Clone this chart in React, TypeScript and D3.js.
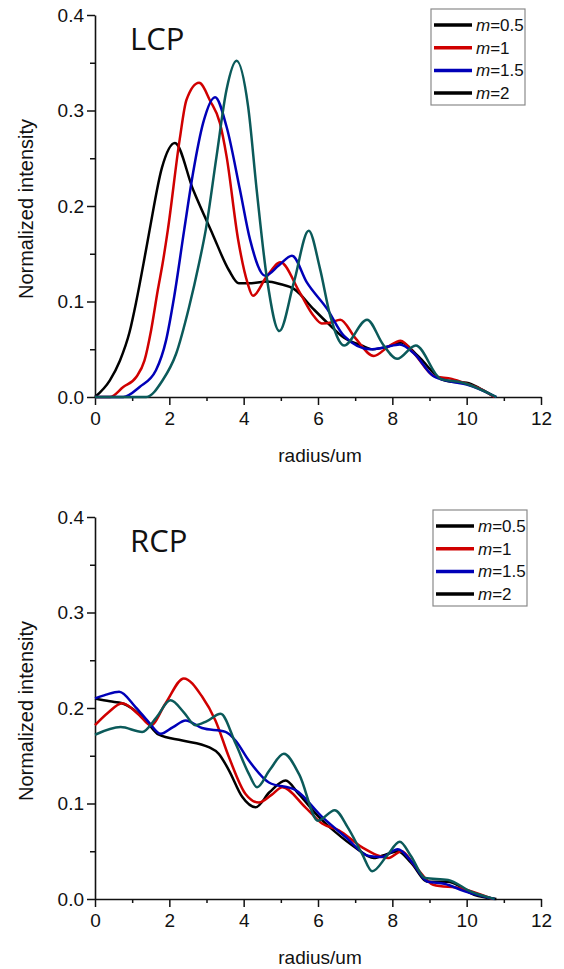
import React, { useRef, useEffect } from "react";
import * as d3 from "d3";

// radius (um) / normalized intensity pairs
const lcpM05: [number, number][] = [
  [0, 0], [0.4, 0.0175], [0.67, 0.038], [0.93, 0.068], [1.11, 0.1], [1.33, 0.145], [1.47, 0.175],
  [1.8, 0.24], [2.15, 0.266], [2.64, 0.217], [3.17, 0.17], [3.6, 0.133], [3.87, 0.119], [4.13, 0.119],
  [4.63, 0.121], [5.0, 0.118], [5.36, 0.113], [5.88, 0.092], [6.27, 0.077], [6.7, 0.062], [7.17, 0.054],
  [7.47, 0.05], [7.9, 0.053], [8.24, 0.057], [8.69, 0.043], [9.3, 0.019], [9.6, 0.016], [10.0, 0.015],
  [10.4, 0.008], [10.75, 0],
];
const lcpM1: [number, number][] = [
  [0, 0], [0.4, 0], [0.76, 0.0105], [1.11, 0.021], [1.33, 0.038], [1.51, 0.07], [1.69, 0.112],
  [1.82, 0.14], [1.96, 0.175], [2.28, 0.27], [2.46, 0.311], [2.8, 0.329], [3.1, 0.31], [3.36, 0.287],
  [3.54, 0.252], [3.85, 0.165], [4.1, 0.12], [4.25, 0.106], [4.6, 0.125], [4.99, 0.141], [5.5, 0.11],
  [5.88, 0.085], [6.1, 0.077], [6.35, 0.078], [6.6, 0.081], [7.0, 0.062], [7.5, 0.043], [7.9, 0.053],
  [8.22, 0.059], [8.6, 0.045], [9.12, 0.022], [9.6, 0.019], [10.0, 0.014], [10.28, 0.01], [10.75, 0],
];
const lcpM15: [number, number][] = [
  [0, 0], [0.76, 0], [1.2, 0.0105], [1.64, 0.028], [1.91, 0.059], [2.13, 0.105], [2.4, 0.175],
  [2.64, 0.235], [2.91, 0.287], [3.23, 0.314], [3.54, 0.283], [3.9, 0.217], [4.17, 0.165], [4.58, 0.127],
  [4.95, 0.138], [5.3, 0.148], [5.7, 0.12], [6.25, 0.092], [6.7, 0.064], [7.41, 0.05], [7.8, 0.052],
  [8.2, 0.055], [8.6, 0.045], [9.1, 0.022], [9.6, 0.016], [10.0, 0.013], [10.8, 0],
];
const lcpM2: [number, number][] = [
  [0, 0], [1.38, 0], [1.82, 0.0175], [2.18, 0.045], [2.53, 0.094], [2.8, 0.14], [2.98, 0.175],
  [3.27, 0.252], [3.54, 0.322], [3.81, 0.352], [4.12, 0.304], [4.35, 0.217], [4.63, 0.123], [4.96, 0.069],
  [5.35, 0.12], [5.75, 0.174], [6.05, 0.135], [6.33, 0.085], [6.7, 0.054], [7.32, 0.081], [7.75, 0.055],
  [8.13, 0.04], [8.63, 0.054], [9.3, 0.019], [9.9, 0.015], [10.8, 0],
];

const rcpM05: [number, number][] = [
  [0, 0.21], [0.4, 0.207], [0.73, 0.205], [0.98, 0.2], [1.36, 0.187], [1.72, 0.172], [2.35, 0.166],
  [3.06, 0.159], [3.33, 0.152], [3.6, 0.135], [3.96, 0.107], [4.32, 0.096], [4.7, 0.112], [5.13, 0.124],
  [5.48, 0.11], [6.02, 0.086], [6.47, 0.07], [7.0, 0.054], [7.5, 0.043], [7.85, 0.047], [8.15, 0.05],
  [8.5, 0.038], [8.96, 0.018], [9.5, 0.018], [10.2, 0.0045], [10.8, 0],
];
const rcpM1: [number, number][] = [
  [0, 0.182], [0.35, 0.195], [0.73, 0.205], [1.18, 0.193], [1.5, 0.182], [1.9, 0.205], [2.39, 0.231],
  [2.88, 0.212], [3.24, 0.187], [3.6, 0.149], [4.05, 0.11], [4.41, 0.101], [4.75, 0.109], [5.04, 0.117],
  [5.66, 0.096], [6.11, 0.079], [6.56, 0.072], [7.19, 0.054], [7.9, 0.043], [8.25, 0.05], [8.6, 0.035],
  [9.1, 0.015], [9.85, 0.011], [10.7, 0],
];
const rcpM15: [number, number][] = [
  [0, 0.21], [0.3, 0.214], [0.65, 0.217], [1.09, 0.201], [1.45, 0.185], [1.77, 0.173], [2.1, 0.18],
  [2.44, 0.187], [2.88, 0.179], [3.51, 0.175], [3.78, 0.166], [4.14, 0.145], [4.68, 0.122], [5.4, 0.114],
  [6.11, 0.086], [6.74, 0.065], [7.37, 0.045], [7.7, 0.044], [8.15, 0.052], [8.5, 0.04], [8.96, 0.018],
  [9.4, 0.016], [9.95, 0.008], [10.75, 0],
];
const rcpM2: [number, number][] = [
  [0, 0.172], [0.69, 0.18], [1.27, 0.175], [1.65, 0.19], [2.03, 0.208], [2.4, 0.195], [2.7, 0.182],
  [3.0, 0.186], [3.38, 0.194], [3.78, 0.163], [4.14, 0.131], [4.36, 0.117], [4.7, 0.135], [5.08, 0.152],
  [5.5, 0.13], [6.0, 0.082], [6.45, 0.093], [6.8, 0.075], [7.19, 0.047], [7.46, 0.029], [7.85, 0.045],
  [8.2, 0.06], [8.5, 0.045], [8.88, 0.022], [9.5, 0.02], [10.1, 0.008], [10.75, 0],
];

const legendLabels = ["m=0.5", "m=1", "m=1.5", "m=2"];
const lineColors = ["#000000", "#d00000", "#0000b8", "#0b5a5a"];
const legendColors = ["#000000", "#d00000", "#0000b8", "#000000"];
const xTicks = [0, 2, 4, 6, 8, 10, 12];
const yTicks = [0, 0.1, 0.2, 0.3, 0.4];

const panels = [
  { title: "LCP", series: [lcpM05, lcpM1, lcpM15, lcpM2], top: 15, legend: [431, 9] },
  { title: "RCP", series: [rcpM05, rcpM1, rcpM15, rcpM2], top: 517, legend: [433, 510] },
];

const W = 564, H = 969;
const left = 95, right = 541, plotH = 382;
const font = "'Liberation Sans', Arial, sans-serif";

function App() {
  const svgRef = useRef<SVGSVGElement>(null);

  useEffect(() => {
    const svg = d3.select(svgRef.current);
    svg.selectAll("*").remove();

    const x = d3.scaleLinear().domain([0, 12]).range([left, right]);

    panels.forEach(p => {
      const y = d3.scaleLinear().domain([0, 0.4]).range([p.top + plotH, p.top]);
      const g = svg.append("g");

      // minor ticks
      g.append("g")
        .attr("transform", `translate(0,${p.top + plotH})`)
        .call(d3.axisBottom(x).tickValues([1, 3, 5, 7, 9, 11]).tickSize(4).tickFormat(() => ""))
        .call(a => a.select(".domain").remove());
      g.append("g")
        .attr("transform", `translate(${left},0)`)
        .call(d3.axisLeft(y).tickValues([0.05, 0.15, 0.25, 0.35]).tickSize(5).tickFormat(() => ""))
        .call(a => a.select(".domain").remove());

      const xa = g.append("g")
        .attr("transform", `translate(0,${p.top + plotH})`)
        .call(d3.axisBottom(x).tickValues(xTicks).tickSize(8).tickSizeOuter(0).tickPadding(7).tickFormat(d3.format("d")));
      const ya = g.append("g")
        .attr("transform", `translate(${left},0)`)
        .call(d3.axisLeft(y).tickValues(yTicks).tickSize(8).tickSizeOuter(0).tickPadding(3).tickFormat(d3.format(".1f")));
      [xa, ya].forEach(a => {
        a.selectAll("text")
          .style("font-size", "19px")
          .style("font-family", font)
          .attr("fill", "#111");
        a.selectAll("path").attr("stroke", "#111").attr("stroke-width", 1.6);
      });
      g.selectAll("g.tick line").attr("stroke", "#111").attr("stroke-width", 1.5);

      // axis titles
      g.append("text")
        .attr("x", (left + right) / 2 + 2)
        .attr("y", p.top + plotH + 65)
        .attr("text-anchor", "middle")
        .attr("font-family", font)
        .attr("font-size", 19)
        .attr("fill", "#111")
        .text("radius/um");
      g.append("text")
        .attr("transform", `translate(33,${p.top + plotH / 2 + 3}) rotate(-90)`)
        .attr("text-anchor", "middle")
        .attr("font-family", font)
        .attr("font-size", 20)
        .attr("fill", "#111")
        .text("Normalized intensity");

      g.append("text")
        .attr("x", 130)
        .attr("y", p.top + 35)
        .attr("font-family", "'Open Sans', sans-serif")
        .attr("font-size", 31)
        .attr("fill", "#111")
        .text(p.title);

      const line = d3.line<[number, number]>()
        .x(d => x(d[0]))
        .y(d => y(d[1]))
        .curve(d3.curveMonotoneX);

      g.selectAll(".curve")
        .data(p.series)
        .join("path")
        .attr("class", "curve")
        .attr("d", d => line(d))
        .attr("fill", "none")
        .attr("stroke", (d, i) => lineColors[i])
        .attr("stroke-width", 2.5);

      // legend
      const [lx, ly] = p.legend;
      g.append("rect")
        .attr("x", lx).attr("y", ly)
        .attr("width", 94).attr("height", 96)
        .attr("fill", "white")
        .attr("stroke", "#8a8a8a")
        .attr("stroke-width", 1.2);
      const items = g.selectAll(".leg")
        .data(legendLabels)
        .join("g")
        .attr("class", "leg")
        .attr("transform", (d, i) => `translate(${lx},${ly + 16 + i * 22.7})`);
      items.append("line")
        .attr("x1", 3).attr("x2", 41)
        .attr("stroke", (d, i) => legendColors[i])
        .attr("stroke-width", 3.5);
      const t = items.append("text")
        .attr("x", 45).attr("y", 6)
        .attr("font-family", font)
        .attr("font-size", 17)
        .attr("fill", "#111");
      t.append("tspan").attr("font-style", "italic").text(d => d.slice(0, 1));
      t.append("tspan").text(d => d.slice(1));
    });
  }, []);

  return (
    <div style={{ position: "absolute", left: 0, top: 0 }}>
      <svg ref={svgRef} width={W} height={H} style={{ display: "block", background: "white" }}></svg>
    </div>
  );
}

export default App;
